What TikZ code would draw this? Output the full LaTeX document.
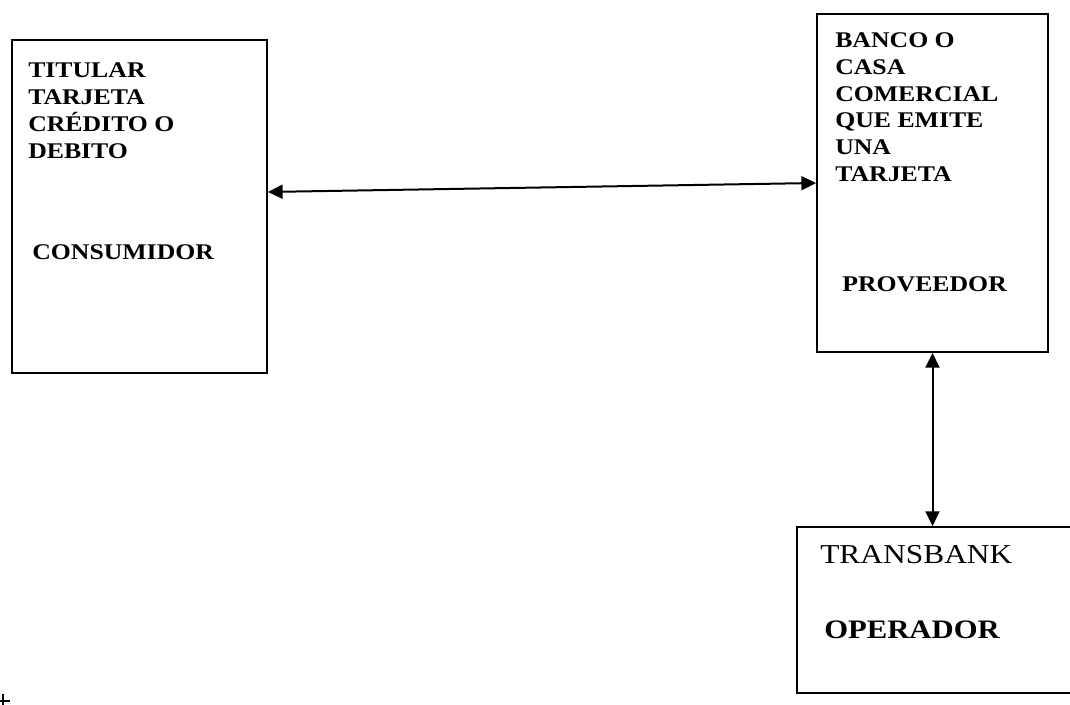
\documentclass[tikz,border=0pt]{standalone}
\usepackage{fontspec}
\setmainfont{Liberation Serif}[FakeStretch=1.15]
\usetikzlibrary{arrows.meta}
\tikzset{
  box/.style={draw, line width=1.4pt, rectangle, inner sep=0pt},
  lbl/.style={anchor=base west, inner sep=0pt, font=\fontsize{16.8}{20.25}\selectfont\bfseries},
  big/.style={anchor=base west, inner sep=0pt, font=\fontsize{20.5}{24}\selectfont},
  link/.style={line width=1.5pt, {Triangle[length=11pt,width=10.5pt]}-{Triangle[length=11pt,width=10.5pt]}},
}
\begin{document}
\begin{tikzpicture}[x=0.75pt,y=-0.75pt]
\useasboundingbox (0,0) rectangle (1070,705);
\fill[white] (0,0) rectangle (1070,705);
\clip (0,0) rectangle (1070,705);
% boxes
\node[box, minimum width=191.25pt, minimum height=249.75pt] (cons) at (139.5,206.5) {};
\node[box, minimum width=173.25pt, minimum height=253.5pt] (prov) at (932.5,183) {};
\node[box, minimum width=219.75pt, minimum height=124.5pt] (oper) at (943.5,610) {};
% texts
\node[lbl] (t1) at (28,78) {\vtop{\hbox{TITULAR}\hbox{TARJETA}\hbox{CRÉDITO O}\hbox{DEBITO}}};
\node[lbl] (t2) at (32,260) {CONSUMIDOR};
\node[lbl] (t3) at (835,48) {\vtop{\baselineskip=20pt\hbox{BANCO O}\hbox{CASA}\hbox{COMERCIAL}\hbox{QUE EMITE}\hbox{UNA}\hbox{TARJETA}}};
\node[lbl] (t4) at (842,292) {PROVEEDOR};
\node[big] (t5) at (820,563) {TRANSBANK};
\node[big, font=\fontsize{20}{24}\selectfont\bfseries] (t6) at (824,638) {OPERADOR};
% connectors
\draw[link] ([yshift=10.9pt]cons.east) -- (prov.west);
\draw[link] (prov.south) -- (prov.south |- oper.north);
% small mark at lower left
\draw[line width=1.2pt] (3,694) -- (3,705) (0,701) -- (10,701);
\end{tikzpicture}
\end{document}
